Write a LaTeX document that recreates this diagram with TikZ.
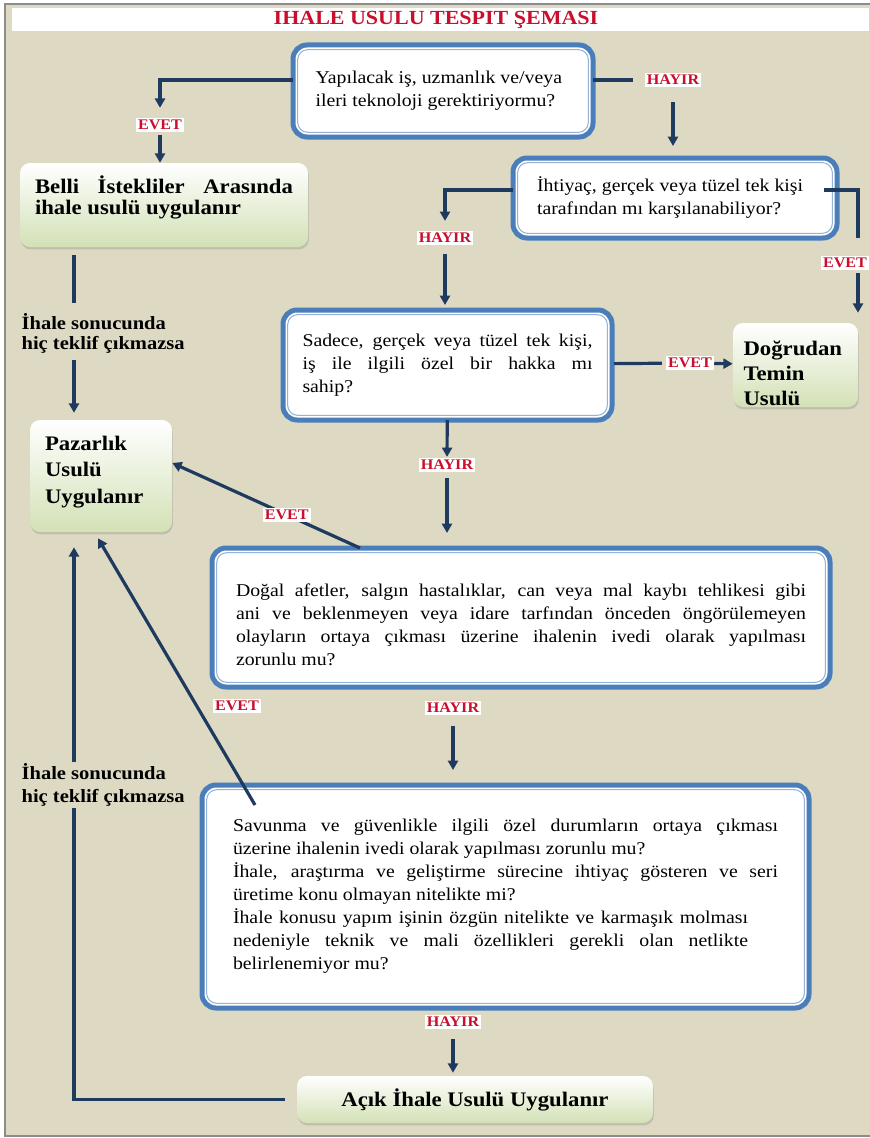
\documentclass[tikz,border=0pt]{standalone}
\usepackage{fontspec}
\setmainfont{Liberation Serif}[FakeStretch=1.1]
\usepackage{tikz}
\usetikzlibrary{arrows.meta,positioning,shadows}
\definecolor{bg}{HTML}{DDD9C3}
\definecolor{frame}{HTML}{8C8C8C}
\definecolor{qblue}{HTML}{4A7EBB}
\definecolor{qlight}{HTML}{95B3D7}
\definecolor{gfill}{HTML}{D3E1B6}
\definecolor{navy}{HTML}{1F3A5F}
\definecolor{lred}{HTML}{C8102E}
\newlength\px
\setlength\px{0.75pt}
\hyphenpenalty=10000
\tolerance=9999
\tikzstyle{qbox}=[rectangle,rounded corners=14\px,draw=qblue,line width=5\px,fill=white,
                  outer sep=0pt,inner sep=0pt,align=justify,font=\fontsize{13.5}{17.25}\selectfont]
\tikzstyle{qinner}=[draw=qlight,line width=0.8pt,rounded corners=10\px]
\tikzstyle{gbox}=[rectangle,rounded corners=10\px,top color=white,bottom color=gfill,
                  drop shadow={shadow xshift=0.6pt,shadow yshift=-1.8pt,opacity=0.3},
                  inner sep=0pt,font=\fontsize{15.5}{15.5}\selectfont\bfseries]
\tikzstyle{lab}=[fill=white,text=lred,inner sep=1.5pt,font=\fontsize{11}{12}\selectfont\bfseries]
\tikzstyle{note}=[align=left,inner sep=1pt,font=\fontsize{14}{15}\selectfont\bfseries]
\tikzstyle{link}=[draw=navy,line width=2.4pt]

\begin{document}
\begin{tikzpicture}[x=0.75pt,y=-0.75pt,>={Triangle[length=7pt,width=7.5pt]}]
  \useasboundingbox (0,0) rectangle (869,1138);
  % background, frame and title
  \fill[white] (0,0) rectangle (869,1138);
  \draw[fill=bg,draw=frame,line width=2.5\px] (5,4) rectangle (880,1136);
  \fill[white] (12,8) rectangle (869,31);
  \node[text=lred,font=\fontsize{15}{18}\selectfont\bfseries] (title) at (436,20) {IHALE USULU TESPIT ŞEMASI};

  % question boxes
  \node[qbox,minimum width=300\px,minimum height=92\px,text width=255\px] (q1) at (443,91)
    {Yapılacak iş, uzmanlık ve/veya\\ileri teknoloji gerektiriyormu?};
  \node[qbox,minimum width=324\px,minimum height=80\px,text width=276\px] (q2) at (675,198)
    {İhtiyaç, gerçek veya tüzel tek kişi\\tarafından mı karşılanabiliyor?};
  \node[qbox,minimum width=329\px,minimum height=110\px,text width=290\px] (q3) at (447.5,365)
    {Sadece, gerçek veya tüzel tek kişi,\linebreak iş ile ilgili özel bir hakka mı\linebreak sahip?};
  \node[qbox,minimum width=618\px,minimum height=139\px,text width=570\px] (q4) at (521,617.5)
    {\rule{0pt}{20pt}Doğal afetler, salgın hastalıklar, can veya mal kaybı tehlikesi gibi\linebreak
     ani ve beklenmeyen veya idare tarfından önceden öngörülemeyen\linebreak
     olayların ortaya çıkması üzerine ihalenin ivedi olarak yapılması\linebreak zorunlu mu?};
  \node[qbox,minimum width=607\px,minimum height=223\px,text width=545\px] (q5) at (505.5,896.5)
    {Savunma ve güvenlikle ilgili özel durumların ortaya çıkması\linebreak
     üzerine ihalenin ivedi olarak yapılması zorunlu mu?\par
     İhale, araştırma ve geliştirme sürecine ihtiyaç gösteren ve seri\linebreak
     üretime konu olmayan nitelikte mi?\par
     {\rightskip=22.5pt İhale konusu yapım işinin özgün nitelikte ve karmaşık molması\linebreak
     nedeniyle teknik ve mali özellikleri gerekli olan netlikte\linebreak
     belirlenemiyor mu?\par}};
  \foreach \q in {q1,q2,q3,q4,q5}
    \draw[qinner] ([shift={(3.5pt,-3.5pt)}]\q.north west) rectangle ([shift={(-3.5pt,3.5pt)}]\q.south east);

  % result boxes
  \node[gbox,minimum width=288\px,minimum height=84\px,text width=258\px,align=justify] (belli) at (164,205)
    {Belli İstekliler Arasında\linebreak ihale usulü uygulanır\rule[-15pt]{0pt}{15pt}};
  \node[gbox,minimum width=142\px,minimum height=112\px,text width=112\px,align=left,
        font=\fontsize{15.5}{20}\selectfont\bfseries] (pz) at (101,476)
    {Pazarlık\\Usulü\\Uygulanır\rule[-9.5pt]{0pt}{9.5pt}};
  \node[gbox,minimum width=125\px,minimum height=84\px,text width=104\px,align=left,
        font=\fontsize{15.5}{18.75}\selectfont\bfseries] (dog) at (795.5,365)
    {\rule{0pt}{23pt}Doğrudan\\Temin\\Usulü};
  \node[gbox,minimum width=356\px,minimum height=47\px] (acik) at (475,1099.5)
    {Açık İhale Usulü Uygulanır};

  % answer labels
  \node[lab] (l1) at (160,125) {EVET};
  \node[lab] (l2) at (673,80) {HAYIR};
  \node[lab] (l3) at (445,238) {HAYIR};
  \node[lab] (l4) at (845,263) {EVET};
  \node[lab] (l5) at (690,363) {EVET};
  \node[lab] (l6) at (447,465) {HAYIR};
  \node[lab] (l8) at (453,708) {HAYIR};
  \node[lab] (l9) at (237,706) {EVET};
  \node[lab] (l10) at (453,1022) {HAYIR};
  \node[note,anchor=west] (t1) at (20,333) {İhale sonucunda\\hiç teklif çıkmazsa};
  \coordinate (lx) at (74,0);
  \coordinate (rx) at (858,0);

  % connectors
  \draw[link,->,shorten >=10\px] ([yshift=8.25pt]q1.west) -| (l1);
  \draw[link,->,shorten <=3\px] (l1) -- (l1 |- belli.north);
  \draw[link,shorten >=12\px] ([yshift=8.25pt]q1.east) -- (l2);
  \draw[link,->,shorten <=15\px,shorten >=12\px] (l2) -- (l2 |- q2.north);
  \draw[link,->,shorten >=10\px] ([yshift=6pt]q2.west) -| (l3);
  \draw[link,->,shorten <=9\px,shorten >=5\px] (l3) -- (l3 |- q3.north);
  \draw[link,shorten >=18\px] ([shift={(-10pt,6pt)}]q2.east) -| (l4.north -| rx);
  \draw[link,->,shorten <=3\px,shorten >=10\px] (l4.south -| rx) -- (dog.north -| rx);
  \draw[link,shorten <=2\px,shorten >=4\px] (q3) -- (l5);
  \draw[link,->] (l5) -- (dog);
  \draw[link,->,shorten >=1\px] (q3) -- (l6);
  \draw[link,->,shorten <=6\px,shorten >=15\px] (l6) -- (l6 |- q4.north);
  \draw[link,->] ([xshift=111pt]q4.north west) -- node[lab,pos=0.39] (l7) {EVET} ([yshift=9.75pt]pz.east);
  \draw[link,->,shorten <=11\px,shorten >=15\px] (l8) -- (l8 |- q5.north);
  \draw[link,->] ([shift={(39.75pt,-15pt)}]q5.north west) -- ([shift={(-2.25pt,-4.5pt)}]pz.south);
  \draw[link,->,shorten <=10\px,shorten >=3\px] (l10) -- (l10 |- acik.north);
  \draw[link,shorten <=8\px,shorten >=8\px] (belli.south -| lx) -- (t1.north -| lx);
  \draw[link,->,shorten <=5\px,shorten >=7\px] (t1.south -| lx) -- (pz.north -| lx);
  \draw[link,->,shorten <=12\px,shorten >=15\px] (acik.west) -| (pz.south -| lx);
  \node[note,anchor=west,fill=bg,font=\fontsize{14}{17.5}\selectfont\bfseries] (t2) at (20,785)
    {İhale sonucunda\\hiç teklif çıkmazsa};
\end{tikzpicture}
\end{document}
